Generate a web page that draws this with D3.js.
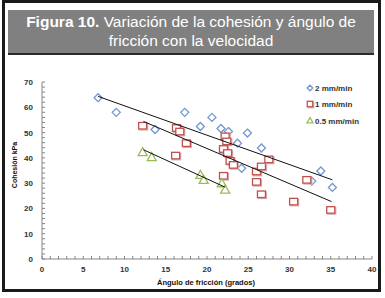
<!DOCTYPE html>
<html>
<head>
<meta charset="utf-8">
<script src="https://cdn.jsdelivr.net/npm/d3@7"></script>
<style>
  body { margin: 0; background: #fff; }
  svg { display: block; }
</style>
</head>
<body>
<script>
// values
var series = ["2 mm/min", "1 mm/min", "0.5 mm/min"];

var angle2 = [6.8, 9.0, 13.7, 17.3, 20.6, 19.2, 21.7, 22.6, 23.7, 24.9, 26.6, 24.2, 33.8, 35.2, 32.7];
var cohes2 = [63.8, 58.0, 51.2, 58.0, 56.0, 52.4, 51.6, 50.4, 45.8, 49.8, 43.9, 35.9, 34.8, 28.3, 30.8];

var angle1 = [12.2, 16.3, 16.7, 17.5, 16.2, 22.2, 22.4, 22.0, 22.5, 22.8, 23.2, 22.0, 26.0, 26.6, 27.5, 26.0, 26.6, 32.1, 30.5, 35.0];
var cohes1 = [52.7, 51.8, 50.4, 45.8, 40.9, 48.5, 46.5, 43.5, 41.9, 38.8, 37.2, 32.9, 34.6, 36.6, 39.4, 30.5, 25.6, 31.3, 22.7, 19.4];

var angle05 = [12.2, 13.3, 19.2, 19.6, 21.8, 22.2];
var cohes05 = [42.3, 40.3, 33.3, 31.3, 30.0, 27.5];

// trend line end points
var trend2 = [[6.8, 64.3], [35.2, 31.3]];
var trend1 = [[12.3, 54.4], [35.1, 22.7]];
var trend05 = [[12.3, 43.2], [22.2, 28.4]];

var xTicks = [0, 5, 10, 15, 20, 25, 30, 35, 40];
var yTicks = [0, 10, 20, 30, 40, 50, 60, 70];

var blue = "#7396cf", red = "#c0504d", green = "#9bbb59";

var svg = d3.select("body").append("svg")
    .attr("width", 385)
    .attr("height", 298);

// frame and title band
svg.append("rect")
    .attr("x", 3.5).attr("y", 1.5)
    .attr("width", 376).attr("height", 289)
    .attr("fill", "#fff")
    .attr("stroke", "#1a1a1a")
    .attr("stroke-width", 3);

svg.append("rect")
    .attr("x", 8).attr("y", 10)
    .attr("width", 366).attr("height", 43)
    .attr("fill", "#808080");
svg.append("line")
    .attr("x1", 8).attr("x2", 374)
    .attr("y1", 54).attr("y2", 54)
    .attr("stroke", "#2a2a2a")
    .attr("stroke-width", 2);

var t1 = svg.append("text")
    .attr("x", 191).attr("y", 27)
    .attr("text-anchor", "middle")
    .style("font-family", "'Liberation Sans', Arial, sans-serif")
    .style("font-size", "15.5px")
    .attr("fill", "#fff");
t1.append("tspan").style("font-weight", "bold").text("Figura 10.");
t1.append("tspan").text(" Variación de la cohesión y ángulo de");

svg.append("text")
    .attr("x", 191).attr("y", 46)
    .attr("text-anchor", "middle")
    .style("font-family", "'Liberation Sans', Arial, sans-serif")
    .style("font-size", "15.5px")
    .attr("fill", "#fff")
    .text("fricción con la velocidad");

// scales
var x = d3.scaleLinear().domain([0, 40]).range([42, 372]);
var y = d3.scaleLinear().domain([0, 70]).range([259, 82]);

var tickFont = "'Liberation Sans', Arial, sans-serif";

// minor ticks
svg.append("g")
    .selectAll("line")
    .data(d3.range(0, 41, 1))
    .enter()
    .append("line")
    .attr("x1", function(d) { return x(d); })
    .attr("x2", function(d) { return x(d); })
    .attr("y1", y(0))
    .attr("y2", y(0) - 3)
    .attr("stroke", "#868686");

svg.append("g")
    .selectAll("line")
    .data(d3.range(0, 71, 2))
    .enter()
    .append("line")
    .attr("x1", x(0))
    .attr("x2", x(0) + 3)
    .attr("y1", function(d) { return y(d); })
    .attr("y2", function(d) { return y(d); })
    .attr("stroke", "#868686");

// axis lines
svg.append("line")
    .attr("x1", x(0)).attr("x2", x(40))
    .attr("y1", y(0)).attr("y2", y(0))
    .attr("stroke", "#868686");
svg.append("line")
    .attr("x1", x(0)).attr("x2", x(0))
    .attr("y1", y(0)).attr("y2", y(70))
    .attr("stroke", "#868686");

// tick labels
svg.append("g")
    .selectAll("text")
    .data(xTicks)
    .enter()
    .append("text")
    .attr("x", function(d) { return x(d); })
    .attr("y", 272)
    .attr("text-anchor", "middle")
    .style("font-family", tickFont)
    .style("font-size", "8px")
    .style("font-weight", "bold")
    .attr("fill", "#333")
    .text(function(d) { return d; });

svg.append("g")
    .selectAll("text")
    .data(yTicks)
    .enter()
    .append("text")
    .attr("x", 33)
    .attr("y", function(d) { return y(d) + 3; })
    .attr("text-anchor", "end")
    .style("font-family", tickFont)
    .style("font-size", "8px")
    .style("font-weight", "bold")
    .attr("fill", "#333")
    .text(function(d) { return d; });

// axis titles
svg.append("text")
    .attr("x", 206).attr("y", 285)
    .attr("text-anchor", "middle")
    .style("font-family", tickFont)
    .style("font-size", "7.5px")
    .style("font-weight", "bold")
    .attr("fill", "#111")
    .text("Ángulo de fricción (grados)");

svg.append("text")
    .attr("transform", "translate(17,165) rotate(-90)")
    .attr("text-anchor", "middle")
    .style("font-family", tickFont)
    .style("font-size", "7px")
    .style("font-weight", "bold")
    .attr("fill", "#111")
    .text("Cohesión kPa");

// marker drawing helpers
function diamond(g, cx, cy, r) {
  g.append("path")
      .attr("d", "M" + cx + "," + (cy - r) + "L" + (cx + r) + "," + cy +
                 "L" + cx + "," + (cy + r) + "L" + (cx - r) + "," + cy + "Z")
      .attr("fill", "#fff")
      .attr("stroke", blue)
      .attr("stroke-width", 1.3);
}

function square(g, cx, cy, w, h) {
  g.append("rect")
      .attr("x", cx - w / 2 + 1).attr("y", cy - h / 2 + 1)
      .attr("width", w).attr("height", h)
      .attr("fill", "none")
      .attr("stroke", "#d9b3b2")
      .attr("stroke-width", 1.3);
  g.append("rect")
      .attr("x", cx - w / 2).attr("y", cy - h / 2)
      .attr("width", w).attr("height", h)
      .attr("fill", "#fff")
      .attr("stroke", red)
      .attr("stroke-width", 1.3);
}

function triangle(g, cx, cy, r) {
  g.append("path")
      .attr("d", "M" + cx + "," + (cy - r) + "L" + (cx + r) + "," + (cy + r * 0.8) +
                 "L" + (cx - r) + "," + (cy + r * 0.8) + "Z")
      .attr("fill", "#fff")
      .attr("stroke", green)
      .attr("stroke-width", 1.3);
}

// points
var pts = svg.append("g");

angle2.forEach(function(a, i) {
  diamond(pts, x(a), y(cohes2[i]), 4);
});
angle1.forEach(function(a, i) {
  square(pts, x(a), y(cohes1[i]), 8, 6.5);
});
angle05.forEach(function(a, i) {
  triangle(pts, x(a), y(cohes05[i]), 4.5);
});

// trend lines
var line = d3.line()
    .x(function(d) { return x(d[0]); })
    .y(function(d) { return y(d[1]); });

[trend2, trend1, trend05].forEach(function(tr) {
  svg.append("path")
      .attr("d", line(tr))
      .attr("fill", "none")
      .attr("stroke", "#111")
      .attr("stroke-width", 1);
});

// legend
var legend = svg.append("g");
var legendY = [88, 104, 120.5];
series.forEach(function(s, i) {
  if (i === 0) diamond(legend, 310, legendY[i], 2.8);
  if (i === 1) square(legend, 310, legendY[i], 5.5, 5.5);
  if (i === 2) triangle(legend, 310, legendY[i], 3);
  legend.append("text")
      .attr("x", 315)
      .attr("y", legendY[i] + 3)
      .style("font-family", tickFont)
      .style("font-size", "8px")
      .style("font-weight", "bold")
      .attr("fill", "#333")
      .text(s);
});
</script>
</body>
</html>
